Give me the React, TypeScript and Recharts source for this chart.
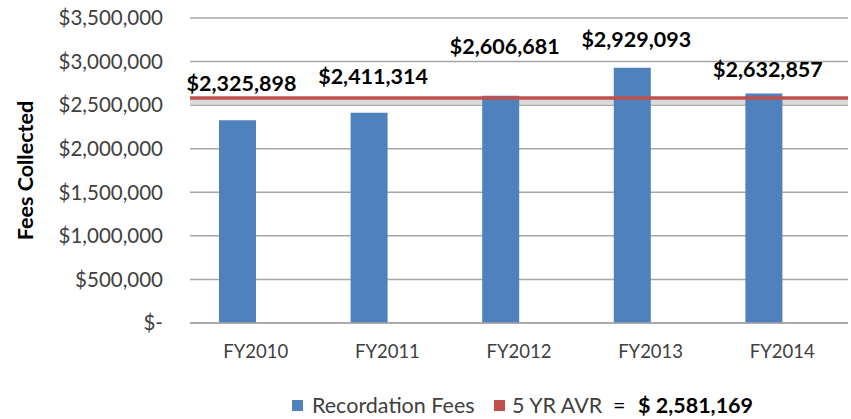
import React from 'react';
import { BarChart, Bar, XAxis, YAxis, CartesianGrid, ReferenceLine, ReferenceArea, LabelList } from 'recharts';

const YEARS = ['FY2010', 'FY2011', 'FY2012', 'FY2013', 'FY2014'];
const FEES = [2325898, 2411314, 2606681, 2929093, 2632857];
const AVERAGE = 2581169;
const Y_TICKS = [0, 500000, 1000000, 1500000, 2000000, 2500000, 3000000, 3500000];

// labels sit at hand-placed heights above each bar in the original
const LABEL_DY = [-37, -37, -50, -29, -25];

const BLUE = '#4F81BD';
const RED = '#C0504D';
const FONT = 'Lato, "Open Sans", sans-serif';

const data = YEARS.map((name, i) => ({ name, fees: FEES[i] }));

const money = (v: number) => (v === 0 ? '$-' : '$' + v.toLocaleString('en-US'));

const FeeLabel = (props: any) => {
  const { x, y, width, value, index } = props;
  return (
    <text
      x={x + width / 2 + 4}
      y={y + LABEL_DY[index]}
      textAnchor="middle"
      dominantBaseline="central"
      fontFamily={FONT}
      fontWeight="bold"
      fontSize={21.5}
      fill="#000"
    >
      {money(value)}
    </text>
  );
};

const legendText: React.CSSProperties = { position: 'absolute', top: 0, lineHeight: '24px' };

export default function App() {
  return (
    <div style={{ position: 'absolute', left: 0, top: 0, width: 851, height: 419, background: '#fff', fontFamily: FONT }}>
      <BarChart
        width={851}
        height={419}
        data={data}
        margin={{ top: 18, right: 3, left: 0, bottom: 0 }}
        barGap={0}
        barCategoryGap="22%"
      >
        <CartesianGrid vertical={false} stroke="#a6a6a6" strokeWidth={1.5} />
        <XAxis
          dataKey="name"
          height={96}
          tickLine={false}
          axisLine={{ stroke: '#a6a6a6', strokeWidth: 1.5 }}
          tickSize={0}
          tickMargin={22}
          tick={{ fill: '#404040', fontSize: 18.5, fontFamily: FONT }}
        />
        <YAxis
          width={190}
          domain={[0, 3500000]}
          ticks={Y_TICKS}
          tickFormatter={money}
          axisLine={false}
          tickLine={false}
          tickSize={0}
          tickMargin={27}
          tick={{ fill: '#404040', fontSize: 20.5, fontFamily: FONT }}
          label={{
            value: 'Fees Collected',
            angle: -90,
            position: 'insideLeft',
            offset: 25,
            style: { fill: '#000', fontWeight: 'bold', fontSize: 21.5, fontFamily: FONT, textAnchor: 'middle' },
          }}
        />
        <Bar dataKey="fees" fill={BLUE} barSize={37} isAnimationActive={false}>
          <LabelList dataKey="fees" content={FeeLabel} />
        </Bar>
        <Bar dataKey="fees" fill="transparent" barSize={37} isAnimationActive={false} legendType="none" />
        <ReferenceArea y1={2500000} y2={AVERAGE} fill="#cfcfcf" fillOpacity={0.8} stroke="none" />
        <ReferenceLine y={AVERAGE} stroke={RED} strokeWidth={3.5} />
      </BarChart>
      <div style={{ position: 'absolute', top: 393, left: 0, width: 851, height: 24, fontSize: 21.5, color: '#404040', whiteSpace: 'nowrap' }}>
        <span style={{ position: 'absolute', left: 292, top: 7, width: 11, height: 11, background: BLUE }} />
        <span style={{ ...legendText, left: 312 }}>Recordation Fees</span>
        <span style={{ position: 'absolute', left: 494, top: 7, width: 11, height: 11, background: RED }} />
        <span style={{ ...legendText, left: 512 }}>5 YR AVR</span>
        <span style={{ ...legendText, left: 613, color: '#000' }}>=</span>
        <span style={{ ...legendText, left: 638, color: '#000', fontWeight: 'bold' }}>{'$ ' + AVERAGE.toLocaleString('en-US')}</span>
      </div>
    </div>
  );
}
